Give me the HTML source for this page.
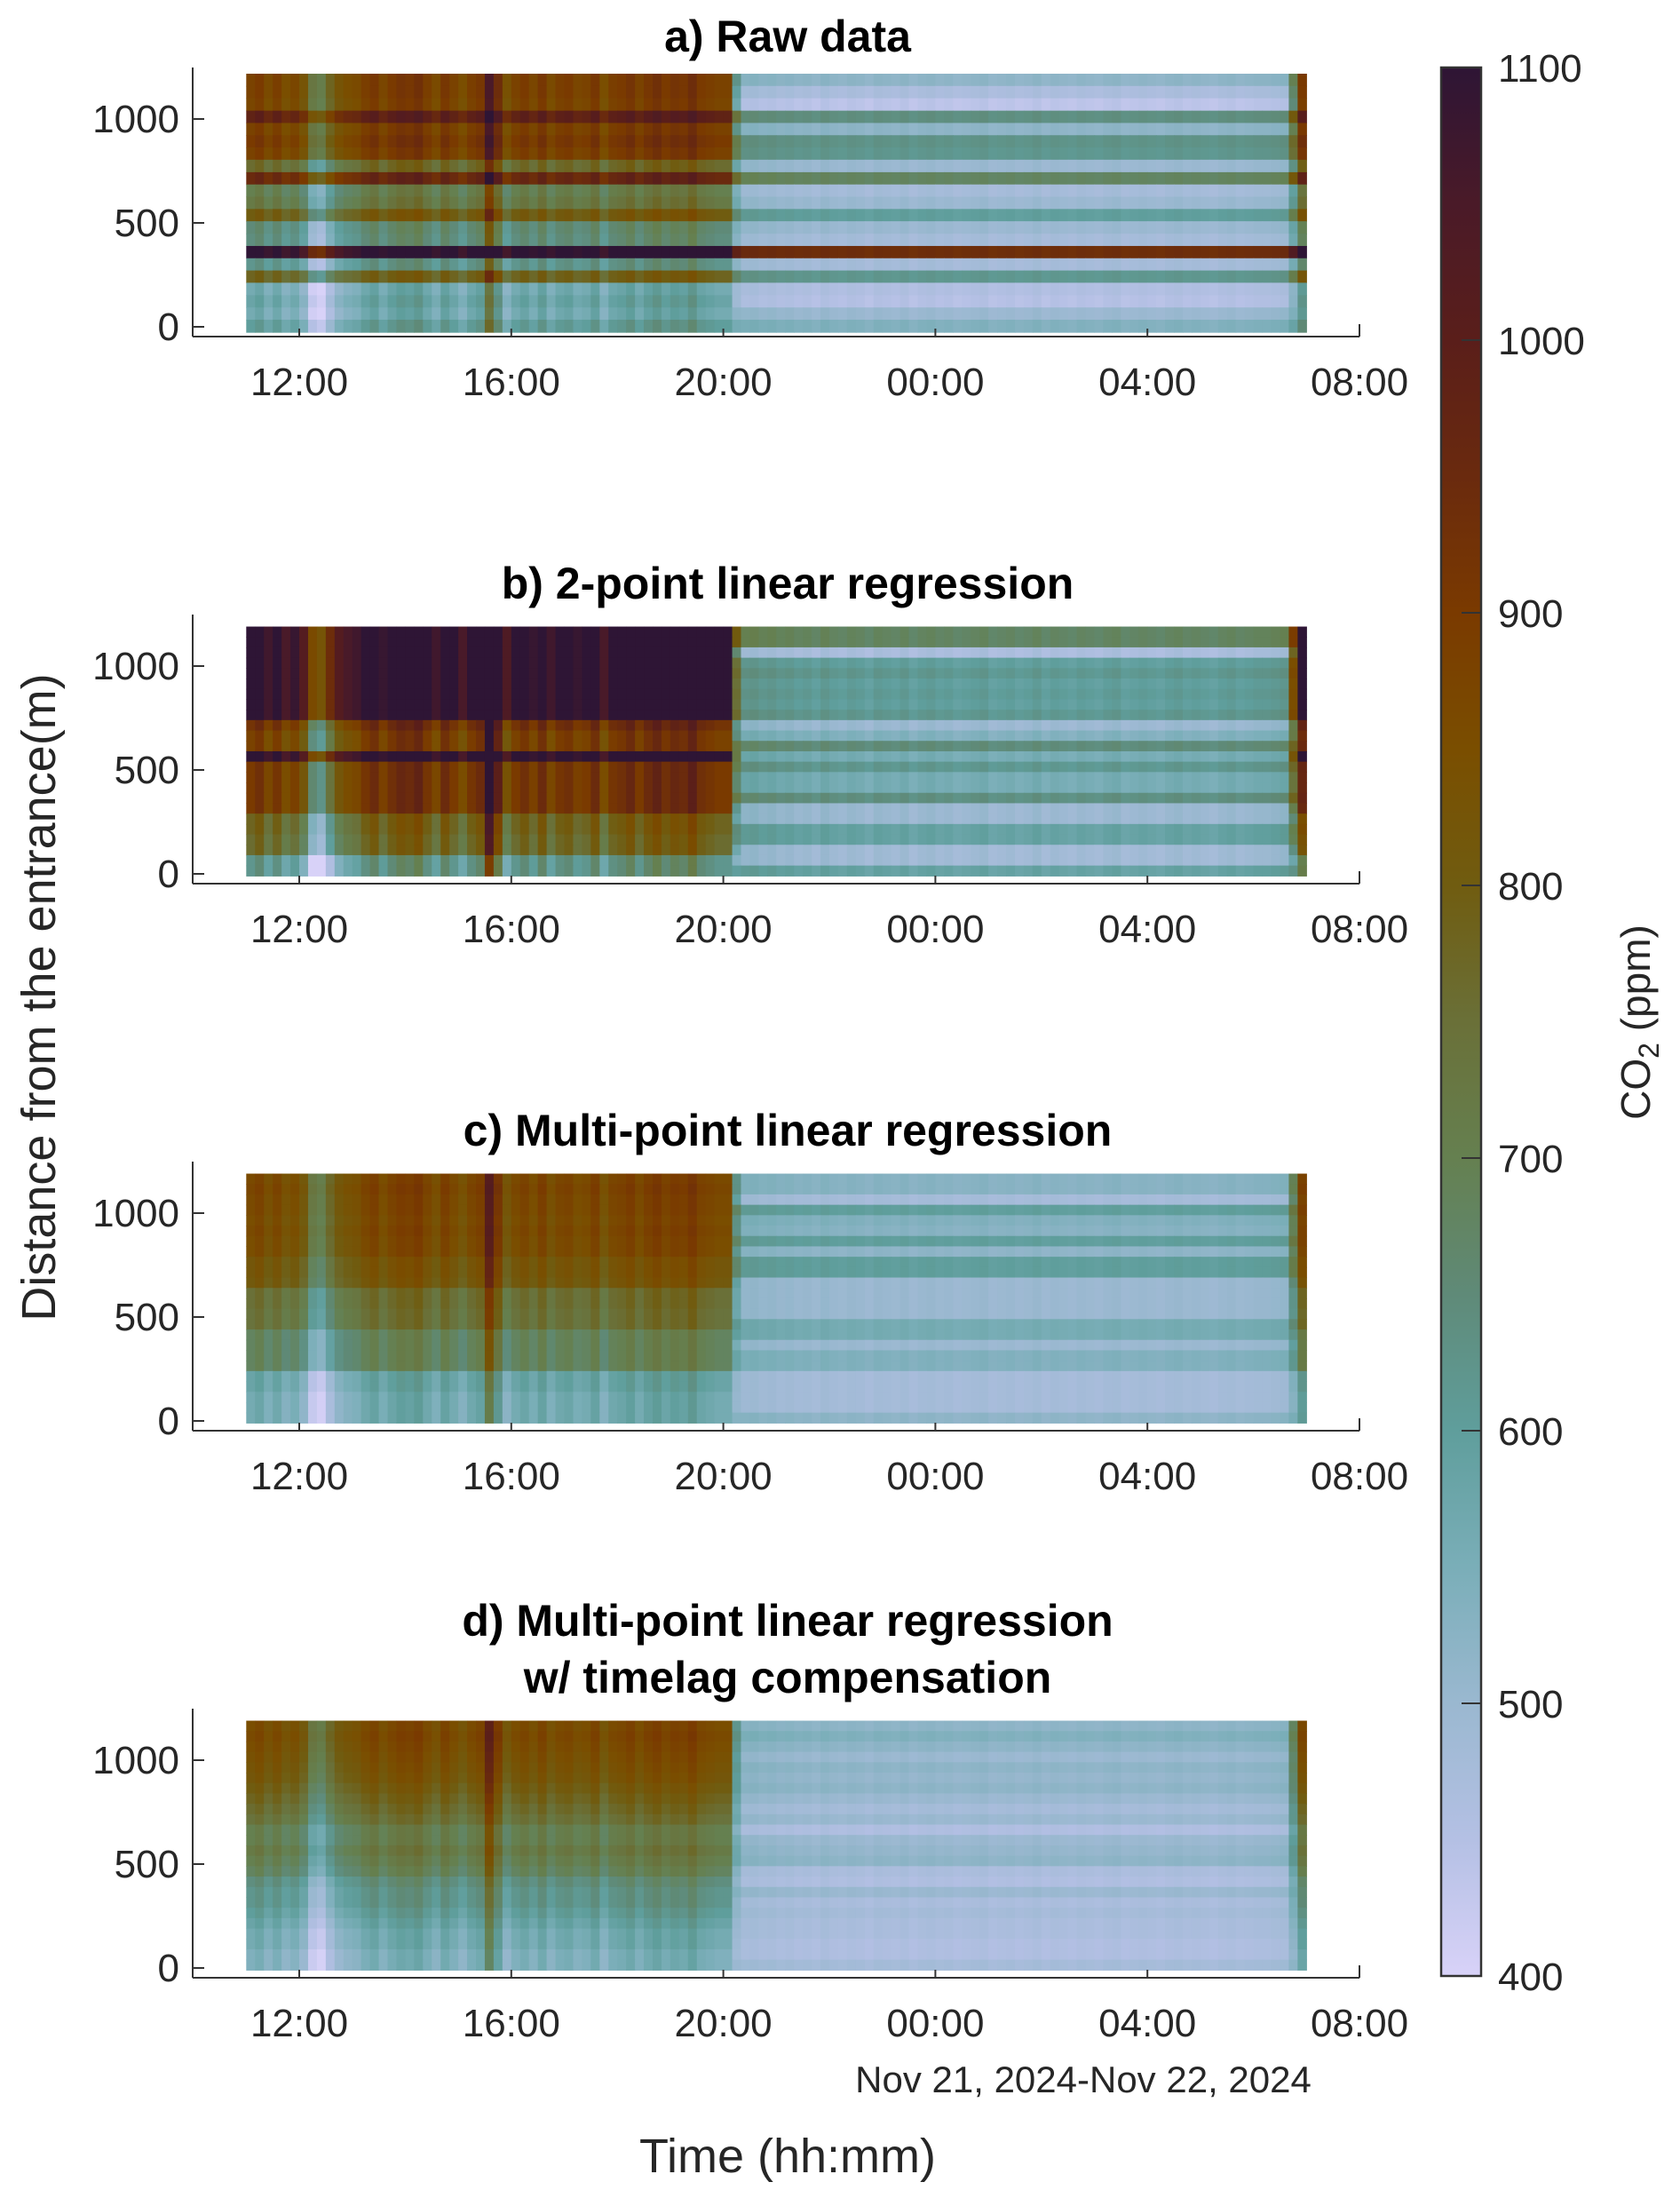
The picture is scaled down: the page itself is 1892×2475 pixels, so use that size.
<!DOCTYPE html>
<html><head><meta charset="utf-8"><style>
html,body{margin:0;padding:0;background:#fff;}
svg{display:block;font-family:"Liberation Sans",sans-serif;}
</style></head><body>
<svg id="fig" width="1892" height="2475" viewBox="0 0 1892 2475" xmlns="http://www.w3.org/2000/svg">
<defs><linearGradient id="cbgrad" x1="0" y1="1" x2="0" y2="0"></linearGradient></defs>
<g id="panels"></g>
<text transform="translate(62,1123) rotate(-90)" text-anchor="middle" font-size="54" fill="#262626">Distance from the entrance(m)</text>
<text x="887" y="2446" text-anchor="middle" font-size="54" fill="#262626">Time (hh:mm)</text>
<text x="1220" y="2356" text-anchor="middle" font-size="42" fill="#262626">Nov 21, 2024-Nov 22, 2024</text>
<g id="colorbar"></g>
<text transform="translate(1858,1151) rotate(-90)" text-anchor="middle" font-size="46" fill="#262626">CO<tspan font-size="32" dy="10">2</tspan><tspan dy="-10"> (ppm)</tspan></text>
</svg>
<script>
// ---- colormap ----
const cmapValues = [400,450,500,550,600,650,700,750,800,850,900,950,1000,1050,1100];
const cmapColors = ["#d8d2f8","#b4c0e4","#9ab8d0","#7aaeb8","#5f9e9c","#5f8a78","#658050","#6a7038","#705c10","#7a4e00","#7a3a00","#6a2a0e","#5a1e1a","#4a1a28","#2e1535"];
const cbTicks = [400,500,600,700,800,900,1000,1100];
const xTickHours = [0,4,8,12,16,20];           // hours after 12:00
const xTickLabels = ["12:00","16:00","20:00","00:00","04:00","08:00"];
const yTicks = [0,500,1000];
const panelTitles = [["a) Raw data"],["b) 2-point linear regression"],["c) Multi-point linear regression"],["d) Multi-point linear regression","w/ timelag compensation"]];

// time columns: start hours after 12:00 (10-minute steps 11:00 -> 07:00)
const colStart = -1, colStep = 1/6, nCols = 120;
// time anomaly per column (ppm): 55 occupied-period columns then 65 night columns
const colAnomaly = [0,20,-20,10,-30,-10, -50,-150,-170,-100,-50,-30, -20,10,30,-10,20,40, 30,50,10,-20,30,0, -30,10,30,170,60,-40, 0,20,-10,30,-20,10, 20,-10,0,30,-30,10, 20,40,0,30,50,20, 40,30,60,20,10,0,0,
 0,30,40,20,30, 10,20,0,10,-10, 20,0,-10,10,0, -20,10,0,-10,10, -20,0,10,-10,0, -20,-10,0,10,-20, -10,0,-20,-10,10, -20,0,-10,-20,0, -10,-20,0,10,-20, -10,0,-10,-20,0, 10,-10,0,-10,-20, 0,10,-10,0,10, 10,20,30,40,60];
// day weight per column (1 = occupied period, 0 = night)
const dayWeight = [1,1,1,1,1,1,1,1,1,1, 1,1,1,1,1,1,1,1,1,1, 1,1,1,1,1,1,1,1,1,1, 1,1,1,1,1,1,1,1,1,1, 1,1,1,1,1,1,1,1,1,1, 1,1,1,1,1,
 0.3,0,0,0,0, 0,0,0,0,0, 0,0,0,0,0, 0,0,0,0,0, 0,0,0,0,0, 0,0,0,0,0, 0,0,0,0,0, 0,0,0,0,0, 0,0,0,0,0, 0,0,0,0,0, 0,0,0,0,0, 0,0,0,0,0, 0,0,0,0.45,0.9];

// rows (top -> bottom), distance edges
const aEdges = [1218,1159,1100,1040,981,922,863,804,744,685,626,567,508,448,389,330,271,212,152,93,34,-26];
const aDay   = [880,880,870,980,880,900,880,760,950,700,720,800,650,640,1100,620,780,560,580,560,600];
const aNight = [520,470,440,640,520,630,620,500,680,480,500,600,500,480,940,480,620,460,450,500,540];
const bEdges = [1190,1140,1090,1040,990,940,890,840,790,740,690,640,590,540,490,440,390,340,290,240,190,140,90,40,-10];
const bDay   = [1100,1100,1100,1100,1100,1100,1100,1100,1100,920,880,880,1100,900,900,900,900,900,780,780,760,760,620,620];
const bNight = [680,680,470,600,620,600,610,600,620,500,540,650,560,620,560,560,640,500,500,590,590,490,490,590];
const cDay   = [860,870,860,860,850,860,850,850,820,820,810,750,750,740,740,680,680,680,680,580,580,560,560,560];
const cNight = [530,530,480,600,540,530,600,520,600,600,500,500,500,500,560,560,500,540,540,480,480,480,480,520];
const dDay   = [850,860,850,840,830,820,800,780,760,740,700,700,720,700,680,640,620,620,600,580,560,560,540,540];
const dNight = [520,540,520,500,520,510,520,500,480,500,460,500,510,520,470,460,500,470,480,470,470,460,460,480];
const anomalyGain = [1.0,1.6,0.9,0.8];

const panels = [
  {edges:aEdges, day:aDay, night:aNight},
  {edges:bEdges, day:bDay, night:bNight},
  {edges:bEdges, day:cDay, night:cNight},
  {edges:bEdges, day:dDay, night:dNight}
];

const NS = "http://www.w3.org/2000/svg";
function hex(c){return [parseInt(c.slice(1,3),16),parseInt(c.slice(3,5),16),parseInt(c.slice(5,7),16)];}
function cmap(v){
  if(!isFinite(v)) v=500;
  v=Math.max(400,Math.min(1100,v));
  for(let i=0;i<cmapValues.length-1;i++){
    if(v<=cmapValues[i+1]){
      const t=(v-cmapValues[i])/(cmapValues[i+1]-cmapValues[i]);
      const a=hex(cmapColors[i]),b=hex(cmapColors[i+1]);
      return "rgb("+a.map((x,k)=>Math.round(x+(b[k]-x)*t)).join(",")+")";
    }
  }
  return cmapColors[cmapColors.length-1];
}
function el(tag,attrs,parent){const e=document.createElementNS(NS,tag);for(const k in attrs)e.setAttribute(k,attrs[k]);parent.appendChild(e);return e;}

const X0=337, XPH=(1531-337)/20;
function xScale(h){return X0+h*XPH;}
const PXM=0.234;
const root=document.getElementById("panels");
const ink="#333";

panels.forEach((p,pi)=>{
  const off=pi*616, y0=368+off;
  const yScale=d=>y0-d*PXM;
  const g=el("g",{},root);
  
  
  const hm=el("g",{},g);
  
  
  for(let r=0;r<p.day.length;r++){
    const yt=yScale(p.edges[r]), yb=yScale(p.edges[r+1]);
    for(let c=0;c<nCols;c++){
      const w=dayWeight[c]||0;
      const an=colAnomaly[c]||0;
      const v=p.night[r]+(p.day[r]-p.night[r])*w+an*anomalyGain[pi]*(w>0.5?1:0.4);
      const xl=xScale(colStart+c*colStep), xr=xScale(colStart+(c+1)*colStep);
      const rc=el("rect",{x:xl.toFixed(2),y:yt.toFixed(2),width:(xr-xl+0.6).toFixed(2),height:(yb-yt+0.6).toFixed(2),fill:cmap(v)},hm);
      
      
    }
  }
  // axes
  const axB=y0+11, axT=76+off;
  const yl=el("line",{x1:217,y1:axT,x2:217,y2:axB,stroke:ink,"stroke-width":2},g);
  
  
  const xl=el("line",{x1:217,y1:axB,x2:1531,y2:axB,stroke:ink,"stroke-width":2},g);
  
  
  xTickHours.forEach((h,i)=>{
    const x=xScale(h);
    el("line",{x1:x,y1:axB,x2:x,y2:axB-(i==xTickHours.length-1?14:9),stroke:ink,"stroke-width":2},g);
    const t=el("text",{x:x,y:y0+77,"text-anchor":"middle","font-size":44,fill:"#262626"},g);
    t.textContent=xTickLabels[i];
    
    
  });
  yTicks.forEach(d=>{
    const y=yScale(d);
    el("line",{x1:217,y1:y,x2:230,y2:y,stroke:ink,"stroke-width":2},g);
    const t=el("text",{x:202,y:y+15,"text-anchor":"end","font-size":44,fill:"#262626"},g);
    t.textContent=d;
    
    
  });
  const lines=panelTitles[pi];
  lines.forEach((s,li)=>{
    const base = 58+off - (lines.length-1-li)*64;
    const t=el("text",{x:887,y:base,"text-anchor":"middle","font-size":50,"font-weight":"bold",fill:"#000"},g);
    t.textContent=s;
    
    
  });
});

// colorbar
const cb=document.getElementById("colorbar");
const grad=document.getElementById("cbgrad");
cmapValues.forEach((v,i)=>{el("stop",{offset:((v-400)/700).toFixed(4),"stop-color":cmapColors[i]},grad);});
const CBT=76, CBB=2225, cbY=v=>CBB-(v-400)/700*(CBB-CBT);
el("rect",{x:1623,y:CBT,width:45,height:CBB-CBT,fill:"url(#cbgrad)",stroke:ink,"stroke-width":2.5},cb);
cbTicks.forEach(v=>{
  const y=cbY(v);
  if(v>400&&v<1100) el("line",{x1:1646,y1:y,x2:1668,y2:y,stroke:ink,"stroke-width":2},cb);
  const t=el("text",{x:1687,y:y+16,"font-size":44,fill:"#262626"},cb);
  t.textContent=v;
  
  
});
</script>
</body></html>
